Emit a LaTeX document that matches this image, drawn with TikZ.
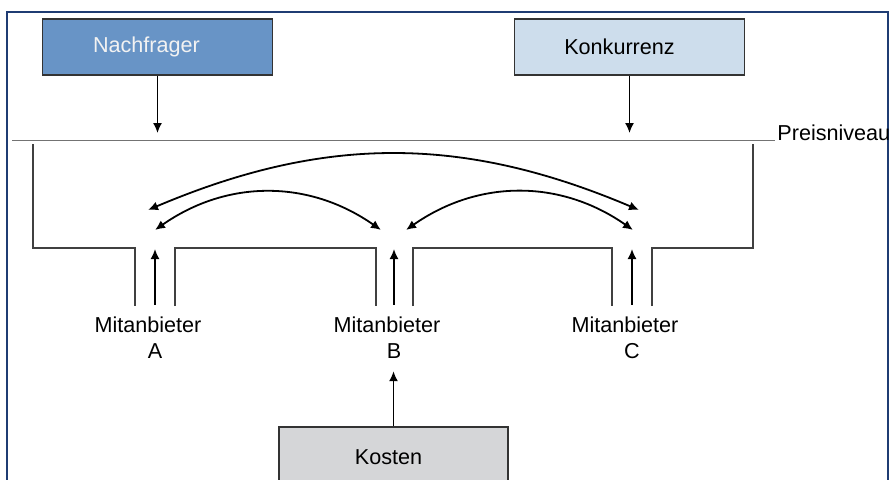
\documentclass[tikz,border=0pt]{standalone}
\usepackage{fontspec}
\setmainfont{Liberation Sans}
\usetikzlibrary{arrows.meta}
\definecolor{rahmen}{HTML}{1F3C73}
\definecolor{nachfr}{HTML}{6894C6}
\definecolor{konk}{HTML}{CDDDEC}
\definecolor{kost}{HTML}{D5D6D8}

\begin{document}
\begin{tikzpicture}[x=0.5pt,y=-0.5pt,font=\fontsize{10.8}{13}\selectfont,
    box/.style={draw=black!80,line width=0.8pt,minimum width=115pt,minimum height=28pt,inner sep=0},
    arr/.style={-{Latex[length=5pt,width=4.5pt]},line width=0.8pt},
    darr/.style={{Latex[length=5pt,width=4.5pt]}-{Latex[length=5pt,width=4.5pt]},line width=0.9pt},
    wall/.style={draw=black!75,line width=0.9pt},
    lbl/.style={align=center,inner sep=0}]
    \clip (0,0) rectangle (890,479);
    \draw[rahmen,line width=1pt] (7,500) -- (7,12) -- (888,12) -- (888,500);

    \node (nachfrager) at (157.5,47) [box,fill=nachfr,text=white!95!black] {Nachfrager\hspace*{11pt}};
    \node (konkurrenz) at (629.5,47) [box,fill=konk] {Konkurrenz\hspace*{10pt}};
    \node (kosten) at (393.5,457) [box,minimum width=114.5pt,minimum height=30pt,fill=kost] {Kosten\hspace*{5pt}};

    \draw[black!55,line width=0.5pt] (12,140) -- (775,140);
    \node (preis) at (777,140) [anchor=base west,inner sep=0] {Preisniveau};

    \draw[arr] (nachfrager.south) -- (nachfrager.south |- 0,133);
    \draw[arr] (konkurrenz.south) -- (konkurrenz.south |- 0,133);

    \draw[wall] (33,144) -- (33,248) -- (135,248) -- (135,306);
    \draw[wall] (175,306) -- (175,248) -- (376,248) -- (376,306);
    \draw[wall] (413,306) -- (413,248) -- (612,248) -- (612,306);
    \draw[wall] (652,306) -- (652,248) -- (753,248) -- (753,144);

    \foreach \n/\x in {A/155,B/394,C/632} {
        \node (m\n) at (\x-7,338) [lbl] {Mitanbieter\\\hspace*{7pt}\n};
        \coordinate (t\n) at (\x,249);
        \draw[arr,shorten <=6pt] (t\n |- m\n.north) -- (t\n);
    }
    \draw[arr,shorten >=6pt] (kosten.north) -- (kosten.north |- mB.south);

    \coordinate (gA) at (148,210);
    \coordinate (gC) at (639,210);
    \coordinate (kA) at (155,230);
    \coordinate (kBl) at (381,230);
    \coordinate (kBr) at (406,230);
    \coordinate (kC) at (633,230);
    \draw[darr] (gA) to[bend left=23] (gC);
    \draw[darr] (kA) to[bend left=35] (kBl);
    \draw[darr] (kBr) to[bend left=35] (kC);
\end{tikzpicture}
\end{document}
